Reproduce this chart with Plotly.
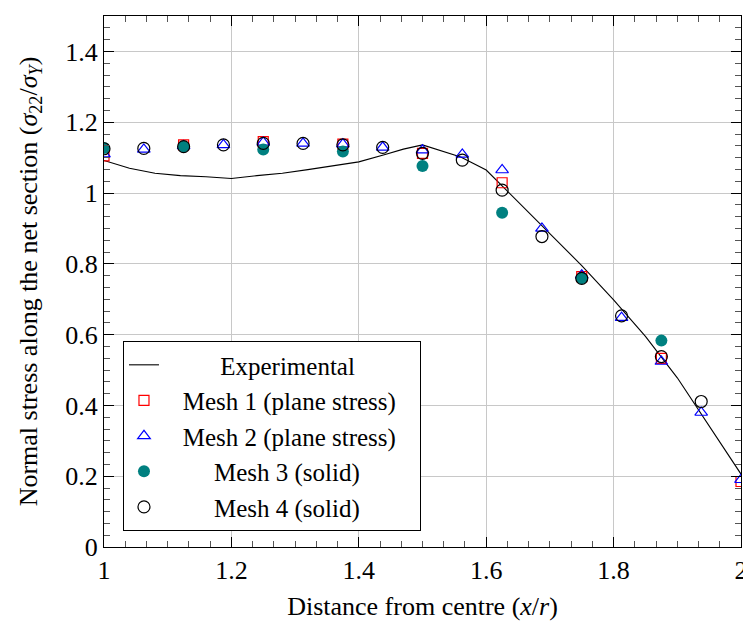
import plotly.graph_objects as go

# Experimental curve
exp_x = [1.0, 1.04, 1.08, 1.12, 1.16, 1.20, 1.24, 1.28, 1.32, 1.36, 1.40, 1.44, 1.47,
         1.50, 1.53, 1.56, 1.60, 1.65, 1.70, 1.75, 1.80, 1.85, 1.90, 1.95, 2.0]
exp_y = [1.092, 1.070, 1.056, 1.049, 1.046, 1.041, 1.049, 1.056, 1.066, 1.077, 1.088,
         1.108, 1.124, 1.136, 1.120, 1.102, 1.065, 0.975, 0.887, 0.795, 0.698, 0.595,
         0.478, 0.342, 0.206]

# Mesh 1 (plane stress)
m1_x = [1.0, 1.125, 1.25, 1.375, 1.5, 1.625, 1.75, 1.875, 2.0]
m1_y = [1.105, 1.136, 1.145, 1.138, 1.112, 1.029, 0.764, 0.533, 0.185]

# Mesh 2 (plane stress)
m2_x = [1.0, 1.0625, 1.125, 1.1875, 1.25, 1.3125, 1.375, 1.4375, 1.5, 1.5625, 1.625,
        1.6875, 1.75, 1.8125, 1.875, 1.9375, 2.0]
m2_y = [1.110, 1.123, 1.133, 1.136, 1.143, 1.140, 1.138, 1.129, 1.121, 1.109, 1.065,
        0.900, 0.768, 0.648, 0.524, 0.380, 0.190]

# Mesh 3 (solid)
m3_x = [1.0, 1.125, 1.25, 1.375, 1.5, 1.625, 1.75, 1.875]
m3_y = [1.127, 1.131, 1.123, 1.117, 1.076, 0.944, 0.759, 0.583]

# Mesh 4 (solid)
m4_x = [1.0, 1.0625, 1.125, 1.1875, 1.25, 1.3125, 1.375, 1.4375, 1.5, 1.5625, 1.625,
        1.6875, 1.75, 1.8125, 1.875, 1.9375]
m4_y = [1.125, 1.126, 1.131, 1.136, 1.140, 1.140, 1.136, 1.129, 1.112, 1.093, 1.008,
        0.877, 0.759, 0.653, 0.538, 0.411]

x_ticks = [1.0, 1.2, 1.4, 1.6, 1.8, 2.0]
x_ticklabels = ["1", "1.2", "1.4", "1.6", "1.8", "2"]
y_ticks = [0.0, 0.2, 0.4, 0.6, 0.8, 1.0, 1.2, 1.4]
y_ticklabels = ["0", "0.2", "0.4", "0.6", "0.8", "1", "1.2", "1.4"]

names = ["Experimental", "Mesh 1 (plane stress)", "Mesh 2 (plane stress)",
         "Mesh 3 (solid)", "Mesh 4 (solid)"]
pads = [9, 3, 3, 8, 8]
tails = [0, 3, 3, 0, 0]
NB = "\u00a0"
ZW = "\u200b"
labels = [NB * p + n + (NB * t + ZW if t else "") for p, n, t in zip(pads, names, tails)]

FONT = "Liberation Serif"
FS = 26

fig = go.Figure()
fig.add_trace(go.Scatter(x=exp_x, y=exp_y, mode="lines", name=labels[0],
                         line=dict(color="black", width=1.1)))
fig.add_trace(go.Scatter(x=m1_x, y=m1_y, mode="markers", name=labels[1],
                         marker=dict(symbol="square-open", size=10, color="red",
                                     line=dict(width=1.2, color="red"))))
fig.add_trace(go.Scatter(x=m2_x, y=m2_y, mode="markers", name=labels[2],
                         marker=dict(symbol="triangle-up-open", size=11, color="blue",
                                     line=dict(width=1.2, color="blue"))))
fig.add_trace(go.Scatter(x=m3_x, y=m3_y, mode="markers", name=labels[3],
                         marker=dict(symbol="circle", size=12, color="#008080",
                                     line=dict(width=0, color="#008080"))))
fig.add_trace(go.Scatter(x=m4_x, y=m4_y, mode="markers", name=labels[4],
                         marker=dict(symbol="circle-open", size=12, color="black",
                                     line=dict(width=1.2, color="black"))))

axis_common = dict(
    showline=True, linecolor="black", linewidth=1.3, mirror="ticks",
    ticks="inside", ticklen=10, tickcolor="black", tickwidth=1,
    showgrid=True, gridcolor="#c8c8c8", gridwidth=1, zeroline=False,
    tickfont=dict(family=FONT, size=FS, color="black"),
    ticklabeloverflow="allow", automargin=False,
    minor=dict(ticks="inside", ticklen=6, tickcolor="#555555", tickwidth=1,
               dtick=0.2 / 6, tick0=0, showgrid=False),
)

fig.update_layout(
    width=743, height=622,
    margin=dict(l=104, r=2, t=16, b=75),
    paper_bgcolor="white", plot_bgcolor="white",
    font=dict(family=FONT, color="black", size=FS),
    xaxis=dict(range=[1, 2], tickmode="array", tickvals=x_ticks, ticktext=x_ticklabels,
               title=dict(text="Distance from centre (<i>x</i>/<i>r</i>)",
                          font=dict(family=FONT, size=FS), standoff=12),
               **axis_common),
    yaxis=dict(range=[0, 1.5], tickmode="array", tickvals=y_ticks, ticktext=y_ticklabels,
               title=dict(text="Normal stress along the net section (<i>σ</i><sub>22</sub>/<i>σ</i><sub><i>Y</i></sub>)",
                          font=dict(family=FONT, size=FS), standoff=20),
               **axis_common),
    legend=dict(x=0.0298, y=0.030, xanchor="left", yanchor="bottom",
                bgcolor="white", bordercolor="black", borderwidth=1,
                font=dict(family=FONT, size=25, color="black")),
    showlegend=True,
)

fig.write_html("out.html")
